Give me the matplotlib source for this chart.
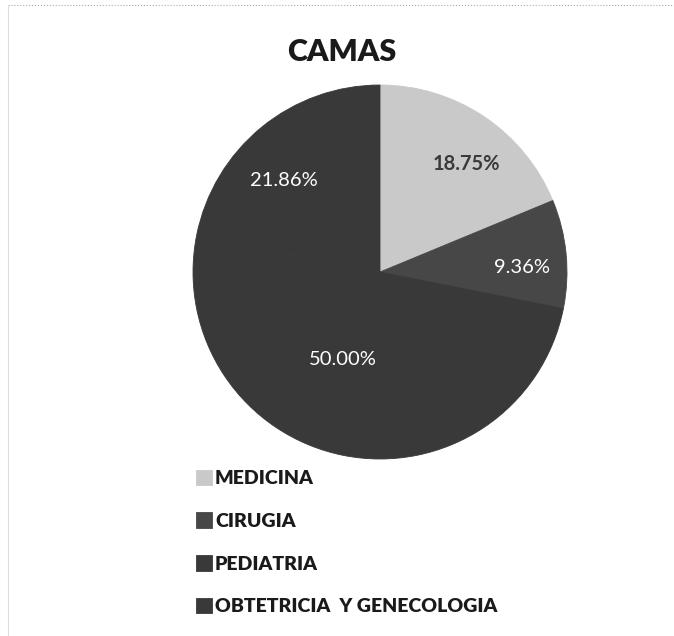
import matplotlib.pyplot as plt
import numpy as np

# data
labels = ['MEDICINA', 'CIRUGIA', 'PEDIATRIA', 'OBTETRICIA  Y GENECOLOGIA']
values = [18.75, 9.36, 50.00, 21.86]
pct_text = ['18.75%', '9.36%', '50.00%', '21.86%']

colors = ['#c9c9c9', '#474747', '#393939', '#393939']
text_colors = ['#3a3a3a', 'white', 'white', 'white']
text_weights = ['bold', 'normal', 'normal', 'normal']
label_dist = [0.74, 0.76, 0.51, 0.71]
label_shift = [-5, -4, -12, 7]   # degrees, nudged like Excel best fit

plt.rcParams['font.family'] = ['Lato', 'DejaVu Sans']

W, H = 674, 636
fig = plt.figure(figsize=(W / 100, H / 100), dpi=100)

cx, cy, r = 380, 272, 187
ax = fig.add_axes([(cx - r) / W, (H - cy - r) / H, 2 * r / W, 2 * r / H])

wedges, _ = ax.pie(values, colors=colors, startangle=90, counterclock=False,
                   radius=1.0, wedgeprops=dict(linewidth=0.6))
for w in wedges:
    w.set_edgecolor(w.get_facecolor())
ax.set_xlim(-1, 1)
ax.set_ylim(-1, 1)
ax.set_aspect('equal')
ax.axis('off')

# percentage labels
for w, t, c, fw, d, s in zip(wedges, pct_text, text_colors, text_weights,
                             label_dist, label_shift):
    ang = np.deg2rad((w.theta1 + w.theta2) / 2 + s)
    ax.text(d * np.cos(ang), d * np.sin(ang), t, color=c, fontsize=14.5,
            fontweight=fw, ha='center', va='center')

# title
fig.text(342 / W, 1 - 52 / H, 'CAMAS', fontsize=22, fontweight='heavy',
         color='#1a1a1a', ha='center', va='center')

# legend
leg = fig.legend(wedges, labels, loc='upper left', bbox_to_anchor=(178 / W, 1 - 452 / H),
                 frameon=False, handlelength=0.85, handleheight=0.85, handletextpad=0.15,
                 labelspacing=1.3, fontsize=14)
for t in leg.get_texts():
    t.set_fontweight('heavy')
    t.set_color('#1a1a1a')

# page border like the scan
fig.add_artist(plt.Line2D([8 / W, 1], [1 - 5 / H, 1 - 5 / H], color='#aaaaaa',
                          lw=0.8, ls=':'))
fig.add_artist(plt.Line2D([8 / W, 8 / W], [0, 1 - 5 / H], color='#dddddd', lw=0.8))

fig.savefig('out.png', dpi=100, facecolor='white')
